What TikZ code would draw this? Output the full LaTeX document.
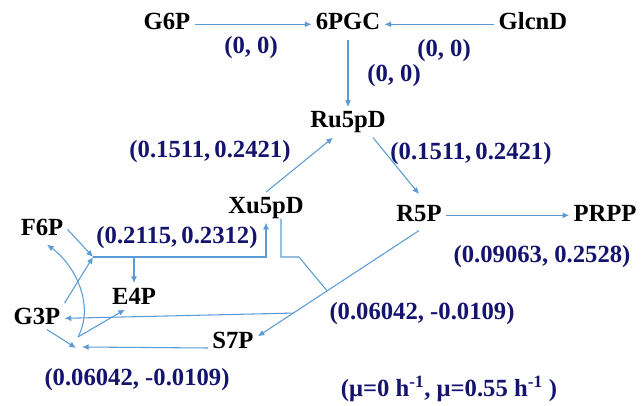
\documentclass[tikz,border=0pt]{standalone}
\usepackage{fontspec}
\setmainfont{Liberation Serif}
\usepackage{tikz}
\usetikzlibrary{arrows.meta, calc}
\definecolor{FlowBlue}{RGB}{91, 155, 213}
\definecolor{RateNavy}{RGB}{20, 20, 110}
\tikzset{
  metab/.style={
    font=\fontsize{18.5}{22}\selectfont\bfseries,
    text height=12.5pt,
    text depth=4pt,
    inner sep=3pt,
    anchor=base
  },
  rate/.style={
    font=\fontsize{18.5}{22}\selectfont\bfseries,
    text=RateNavy,
    inner sep=0pt,
    anchor=base
  },
  flow/.style={draw=FlowBlue, line width=0.8pt, -{Latex[length=5pt, width=4.5pt]}},
  link/.style={draw=FlowBlue, line width=0.8pt}
}

\begin{document}
\begin{tikzpicture}[x=0.75pt, y=-0.75pt]
  \useasboundingbox (0,0) rectangle (642,406);

  % metabolites
  \node[metab] (G6P)   at (167,30)  {G6P};
  \node[metab] (PGC)   at (348,30)  {6PGC};
  \node[metab] (GlcnD) at (533,30)  {GlcnD};
  \node[metab] (Ru5pD) at (348,128) {Ru5pD};
  \node[metab] (Xu5pD) at (266,213) {Xu5pD};
  \node[metab] (R5P)   at (419,221) {R5P};
  \node[metab] (PRPP)  at (605,221) {PRPP};
  \node[metab] (F6P)   at (42,235)  {F6P};
  \node[metab] (E4P)   at (134,304) {E4P};
  \node[metab] (G3P)   at (37,324)  {G3P};
  \node[metab] (S7P)   at (233,348) {S7P};

  % flux values
  \node[rate] (rG6P)   at (251,54)  {(0, 0)};
  \node[rate] (rGlcnD) at (444,57)  {(0, 0)};
  \node[rate] (rPGC)   at (394,82)  {(0, 0)};
  \node[rate] (rXu5pD) at (210,157) {(0.1511,\,0.2421)};
  \node[rate] (rR5P)   at (471,160) {(0.1511,\,0.2421)};
  \node[rate] (rTK)    at (177,243) {(0.2115,\,0.2312)};
  \node[rate] (rPRPP)  at (542,262) {(0.09063, 0.2528)};
  \node[rate] (rTKb)   at (422,319) {(0.06042, -0.0109)};
  \node[rate] (rTA)    at (137,385) {(0.06042, -0.0109)};
  \node[rate] (rMu)    at (449,396) {(μ=0 h\textsuperscript{-1}, μ=0.55 h\textsuperscript{-1} )};

  % junction points
  \coordinate (jF) at (93,257);
  \coordinate (jE) at (E4P.north |- jF);
  \coordinate (xb) at (299,257);
  \coordinate (s7in) at ($(S7P.east)+(0,-6)$);
  \coordinate (jX) at ($(R5P.south)!0.57!(s7in)$);
  \coordinate (jG) at ($(R5P.south)!0.78!(s7in)$);
  \coordinate (jS) at (82,347);
  \coordinate (jB) at (78,337);

  % oxidative branch
  \draw[flow] (G6P.east) -- (PGC.west);
  \draw[flow] (GlcnD.west) -- (PGC.east);
  \draw[flow] (PGC.south) -- (Ru5pD.north);
  \draw[flow] (Xu5pD.north) -- ($(Ru5pD.south)+(-15,0)$);
  \draw[flow] ($(Ru5pD.south)+(25,0)$) -- ($(R5P.north)+(0,-6)$);
  \draw[flow] (R5P.east) -- (PRPP.west);

  % non-oxidative branch
  \draw[flow] (F6P.east) -- (jF);
  \draw[flow] (G3P.north east) -- (jF);
  \draw[flow] (jF) -| (Xu5pD.south);
  \draw[flow] (jE) -- (E4P.north);
  \draw[link] ($(Xu5pD.south)+(15,-4)$) |- (xb) -- (jX);
  \draw[flow] (R5P.south) -- (s7in);
  \draw[flow] (jG) -- (G3P.east);
  \draw[flow] (S7P.base west) -- (jS);
  \draw[flow] ($(G3P.south)+(10,-4)$) -- ($(jS)+(-6,1)$);
  \draw[flow] (jB) -- ($(E4P.south)+(-9,-4)$);
  \draw[flow] (jB) .. controls (95,305) and (75,265) .. ($(F6P.south)+(5,0)$);
\end{tikzpicture}
\end{document}
